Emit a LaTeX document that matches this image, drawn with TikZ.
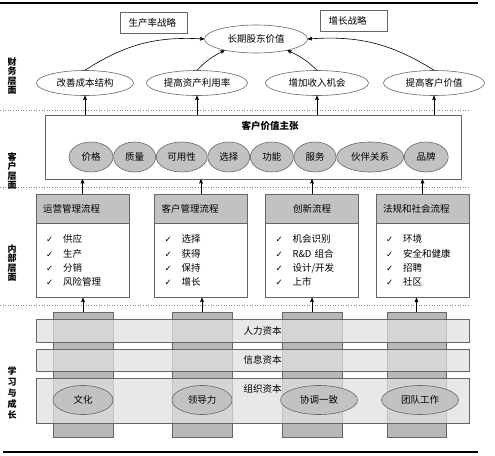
\documentclass[tikz,border=0pt]{standalone}
\usepackage{fontspec}
\setmainfont{Noto Sans CJK SC}
\setsansfont{Noto Sans CJK SC}
\newfontfamily\chkfont{DejaVu Sans}
\usetikzlibrary{positioning,arrows,shapes.geometric}
\pgfdeclarelayer{bg}
\pgfsetlayers{bg,main}
\definecolor{hdgray}{gray}{0.76}
\definecolor{colgray}{gray}{0.72}
\definecolor{bandgray}{gray}{0.88}
\definecolor{lngray}{gray}{0.4}
\tikzset{
	>=stealth'
}
\newcommand{\chk}{\makebox[17pt][l]{\chkfont\fontsize{8.5}{8.5}\selectfont ✓}}

\begin{document}
\begin{tikzpicture}[
x = 1pt, y = -1pt,
node distance = 0pt,
every node/.style = {
	font = \sffamily\fontsize{9.5}{11}\selectfont
},
oval/.style = {
	draw = lngray,
	ellipse,
	inner sep = 0pt,
	minimum height = 25pt
},
goval/.style = {
	oval,
	fill = hdgray,
	minimum height = 30pt
},
strat/.style = {
	draw = lngray,
	minimum height = 21pt,
	inner xsep = 8pt,
	text width = 51pt,
	align = left
},
hdr/.style = {
	draw = lngray,
	fill = hdgray,
	minimum height = 29pt,
	inner xsep = 7pt,
	text width = 79pt,
	align = left
},
bdy/.style = {
	draw = lngray,
	minimum height = 74pt,
	inner xsep = 10pt,
	text width = 73pt,
	align = left,
	font = \sffamily\fontsize{9.5}{14.3}\selectfont
},
col/.style = {
	draw = lngray,
	fill = colgray,
	minimum width = 60pt,
	minimum height = 125pt
},
band/.style = {
	draw = lngray,
	fill = bandgray,
	fill opacity = 0.75,
	minimum width = 433pt
},
side/.style = {
	align = center,
	font = \sffamily\bfseries\fontsize{9}{9.5}\selectfont
},
sep/.style = {
	lngray!80, dotted, line width = 0.8pt
},
every path/.style = {
	semithick
}
]

\useasboundingbox (0,0) rectangle (495,455);
\draw[line width = 2pt] (0,3) -- (478,3);
\draw[line width = 2pt] (3,452) -- (478,452);

% financial layer
\node (ltsv) [oval, minimum width = 103pt, minimum height = 28pt] at (256,39) {长期股东价值};
\node (prod) [strat] at (154,22.5) {生产率战略};
\node (grow) [strat] at (354,21) {增长战略};
\node (fin1) [oval, minimum width = 97pt] at (85,83) {改善成本结构};
\node (fin2) [oval, minimum width = 101pt] at (197,83) {提高资产利用率};
\node (fin3) [oval, minimum width = 103pt] at (317,83) {增加收入机会};
\node (fin4) [oval, minimum width = 101pt] at (434,83) {提高客户价值};

\draw[->] (fin1.north) to[bend left = 18] (ltsv.west);
\draw[->] (fin2.north) to[bend left = 10] (ltsv.200);
\draw[->] (fin3.north) to[bend right = 10] (ltsv.340);
\draw[->] (fin4.north) to[bend right = 18] (ltsv.east);

\draw[sep] (0,110) -- (470,110);
\draw[sep] (0,187) -- (470,187);
\draw[sep] (0,305) -- (470,305);

% customer layer
\node (cvp) [draw = lngray, minimum width = 416pt, minimum height = 64pt] at (253,147) {};
\node (cvptitle) [font = \sffamily\bfseries\fontsize{9.5}{11}\selectfont] at (270,126) {客户价值主张};
\node (price) [goval, minimum width = 44pt] at (91,157) {价格};
\node (qual) [goval, minimum width = 42pt, right = of price] {质量};
\node (avail) [goval, minimum width = 51pt, right = of qual] {可用性};
\node (choice) [goval, minimum width = 42pt, right = of avail] {选择};
\node (func) [goval, minimum width = 43pt, right = of choice] {功能};
\node (serv) [goval, minimum width = 42pt, right = of func] {服务};
\node (partner) [goval, minimum width = 67pt, right = of serv] {伙伴关系};
\node (brand) [goval, minimum width = 44pt, right = of partner] {品牌};

\foreach \f in {fin1,fin2,fin3,fin4}
	\draw[->] (cvp.north -| \f.south) -- (\f.south);

% internal layer
\node (hdr1) [hdr] at (82.5,208.5) {运营管理流程};
\node (bdy1) [bdy, below = of hdr1] {\chk 供应\\\chk 生产\\\chk 分销\\\chk 风险管理};
\node (hdr2) [hdr] at (201,208.5) {客户管理流程};
\node (bdy2) [bdy, below = of hdr2] {\chk 选择\\\chk 获得\\\chk 保持\\\chk 增长};
\node (hdr3) [hdr, align = center] at (312,208.5) {创新流程};
\node (bdy3) [bdy, below = of hdr3] {\chk 机会识别\\\chk R\&D 组合\\\chk 设计/开发\\\chk 上市};
\node (hdr4) [hdr] at (422.5,208.5) {法规和社会流程};
\node (bdy4) [bdy, below = of hdr4] {\chk 环境\\\chk 安全和健康\\\chk 招聘\\\chk 社区};

\foreach \h in {hdr1,hdr2,hdr3,hdr4}
	\draw[->] (\h.north) -- (\h.north |- cvp.south);

% learning and growth
\begin{pgfonlayer}{bg}
\node (col1) [col] at (83,374.5) {};
\node (col2) [col] at (202,374.5) {};
\node (col3) [col] at (312,374.5) {};
\node (col4) [col, minimum width = 59pt] at (416.5,374.5) {};
\end{pgfonlayer}
\node (hum) [band, minimum height = 23pt, label = {[xshift = 10pt]center:人力资本}] at (252.5,330.5) {};
\node (info) [band, minimum height = 22pt, label = {[xshift = 10pt]center:信息资本}] at (252.5,360) {};
\node (org) [band, minimum height = 45pt, label = {[xshift = 10pt, yshift = 11.5pt]center:组织资本}] at (252.5,400.5) {};
\node (cult) [goval, minimum width = 60pt, minimum height = 29pt] at (83,400) {文化};
\node (lead) [goval, minimum width = 60pt, minimum height = 29pt] at (202,400) {领导力};
\node (algn) [goval, minimum width = 77pt, minimum height = 29pt] at (319,400) {协调一致};
\node (team) [goval, minimum width = 77pt, minimum height = 29pt] at (420,400) {团队工作};

\foreach \c/\b in {col1/bdy1,col2/bdy2,col3/bdy3,col4/bdy4}
	\draw[->] (\c.north) -- (\c.north |- \b.south);

% side labels
\node (finlbl) [side] at (12,76) {财\\务\\层\\面};
\node (cuslbl) [side] at (12,171) {客\\户\\层\\面};
\node (intlbl) [side] at (12,263) {内\\部\\层\\面};
\node (lrnlbl) [side, font = \sffamily\bfseries\fontsize{9}{11}\selectfont] at (12,392.5) {学\\习\\与\\成\\长};

\end{tikzpicture}
\end{document}
